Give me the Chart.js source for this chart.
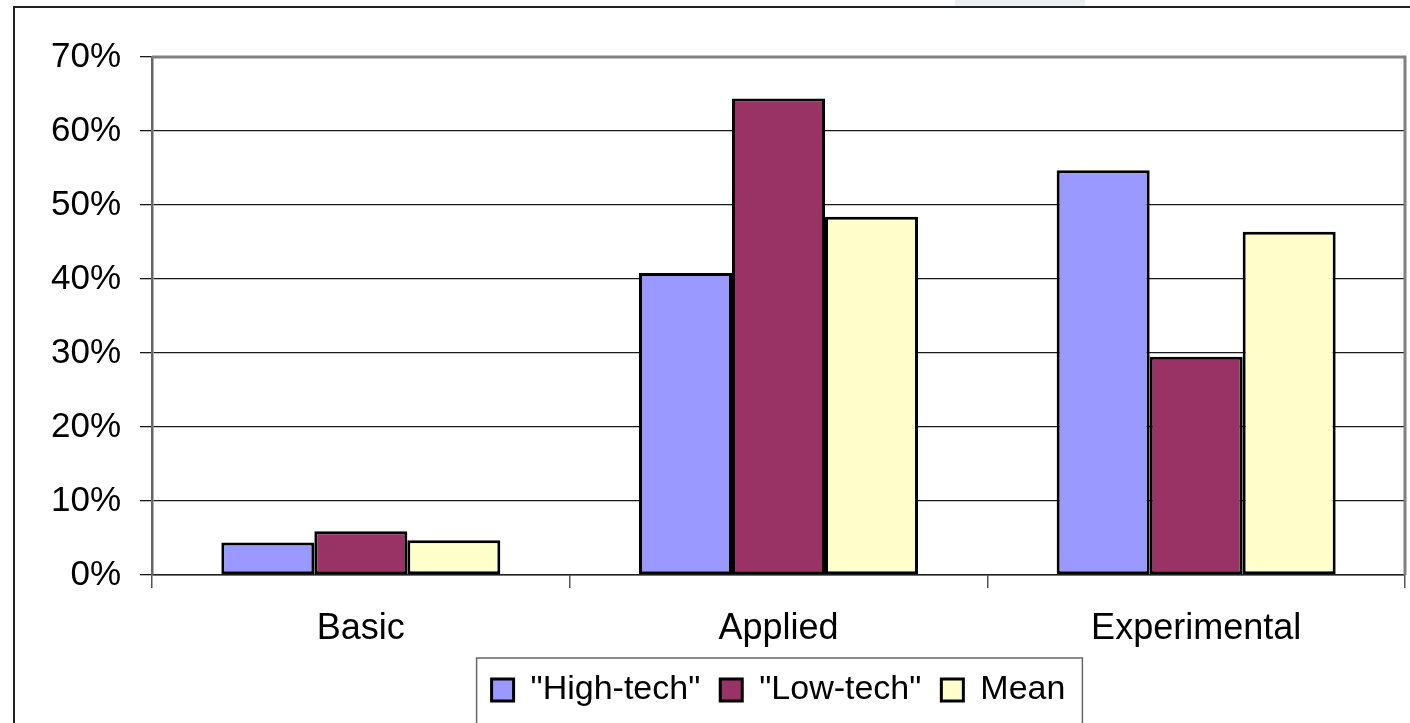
<!DOCTYPE html>
<html>
<head>
<meta charset="utf-8">
<script src="https://cdn.jsdelivr.net/npm/chart.js@4.4.1/dist/chart.umd.min.js"></script>
<style>
  html, body { margin: 0; padding: 0; background: #ffffff; }
  #wrap { width: 1410px; height: 723px; position: relative; }
</style>
</head>
<body>
<div id="wrap"><canvas id="c" width="1410" height="723"></canvas></div>
<script>
const categories = ["Basic", "Applied", "Experimental"];
const seriesNames = ["\"High-tech\"", "\"Low-tech\"", "Mean"];
const highTech = [0.044, 0.408, 0.547];
const lowTech = [0.059, 0.644, 0.295];
const meanVals = [0.047, 0.484, 0.464];
const yTickValues = [0, 0.1, 0.2, 0.3, 0.4, 0.5, 0.6, 0.7];
const colors = ["#9999FF", "#993366", "#FFFFCC"];

const FONT = "'Liberation Sans', Arial, sans-serif";

const framePlugin = {
  id: 'frames',
  beforeDraw(chart) {
    const ctx = chart.ctx;
    ctx.save();
    ctx.fillStyle = '#ffffff';
    ctx.fillRect(0, 0, chart.width, chart.height);
    ctx.fillStyle = '#e9eef3';
    ctx.fillRect(955, 0, 130, 7);
    ctx.strokeStyle = '#222222';
    ctx.lineWidth = 2;
    ctx.beginPath();
    ctx.moveTo(14, 730);
    ctx.lineTo(14, 7);
    ctx.lineTo(1415, 7);
    ctx.stroke();
    ctx.restore();
  },
  afterDraw(chart) {
    const ctx = chart.ctx;
    const a = chart.chartArea;
    ctx.save();
    ctx.strokeStyle = '#808080';
    ctx.lineWidth = 3;
    ctx.beginPath();
    ctx.moveTo(a.left, a.top);
    ctx.lineTo(a.right, a.top);
    ctx.lineTo(a.right, a.bottom);
    ctx.stroke();
    const lg = chart.legend;
    if (lg && lg.legendHitBoxes && lg.legendHitBoxes.length) {
      const hb = lg.legendHitBoxes;
      const l = Math.min(...hb.map(h => h.left)) - 15;
      const r = Math.max(...hb.map(h => h.left + h.width)) + 17;
      ctx.strokeStyle = '#666666';
      ctx.lineWidth = 1.5;
      ctx.strokeRect(l, 658, r - l, 80);
    }
    ctx.restore();
  }
};

const ds = [highTech, lowTech, meanVals].map((vals, i) => ({
  label: seriesNames[i],
  data: vals,
  backgroundColor: colors[i],
  borderColor: '#000000',
  borderWidth: 3,
  borderSkipped: false,
  categoryPercentage: 0.668,
  barPercentage: 1.0
}));

new Chart(document.getElementById('c'), {
  type: 'bar',
  data: { labels: categories, datasets: ds },
  options: {
    responsive: false,
    animation: false,
    devicePixelRatio: 1,
    layout: { padding: { left: 0, top: 57, right: 5, bottom: 6 } },
    plugins: {
      legend: {
        display: true,
        position: 'bottom',
        fullSize: false,
        labels: {
          color: '#000000',
          font: { family: FONT, size: 34 },
          boxWidth: 22,
          boxHeight: 22,
          padding: 20
        }
      },
      tooltip: { enabled: false },
      title: { display: false }
    },
    scales: {
      x: {
        offset: true,
        grid: {
          display: true,
          drawOnChartArea: false,
          drawTicks: true,
          tickLength: 13,
          color: '#555555',
          lineWidth: 1.5,
          offset: true
        },
        border: { display: true, color: '#222222', width: 1.5 },
        ticks: {
          color: '#000000',
          font: { family: FONT, size: 36 },
          padding: 19,
          maxRotation: 0
        },
        afterFit(scale) { scale.height = 78; }
      },
      y: {
        min: 0,
        max: 0.7,
        afterBuildTicks(scale) { scale.ticks = yTickValues.map(v => ({ value: v })); },
        grid: {
          display: true,
          drawOnChartArea: true,
          drawTicks: true,
          tickLength: 12,
          color: '#1a1a1a',
          lineWidth: 1.3
        },
        border: { display: true, color: '#666666', width: 2.5 },
        ticks: {
          color: '#000000',
          font: { family: FONT, size: 35 },
          padding: 19,
          callback: (v) => Math.round(v * 100) + '%'
        },
        afterFit(scale) { scale.width = 152; }
      }
    }
  },
  plugins: [framePlugin]
});
</script>
</body>
</html>
